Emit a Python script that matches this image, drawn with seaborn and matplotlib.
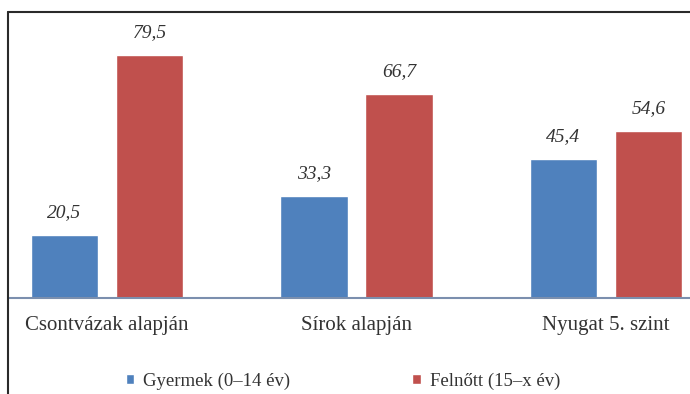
import matplotlib
matplotlib.use("Agg")
import matplotlib.pyplot as plt
from matplotlib.lines import Line2D
import seaborn as sns
import pandas as pd

categories = ["Csontvázak alapján", "Sírok alapján", "Nyugat 5. szint"]
series_names = ["Gyermek (0–14 év)", "Felnőtt (15–x év)"]
child_values = [20.5, 33.3, 45.4]
adult_values = [79.5, 66.7, 54.6]
colors = ["#4F81BD", "#C0504D"]

df = pd.DataFrame({
    "category": categories * 2,
    "group": [series_names[0]] * 3 + [series_names[1]] * 3,
    "value": child_values + adult_values,
})

sns.set_theme(style="white")
plt.rcParams["font.family"] = ["Liberation Serif", "DejaVu Serif"]

W, H = 690, 394
fig = plt.figure(figsize=(W / 100, H / 100), dpi=100)
fig.patch.set_facecolor("white")
ax = fig.add_axes([10 / W, 1 - 298 / H, 680 / W, (298 - 12) / H])

sns.barplot(data=df, x="category", y="value", hue="group", order=categories,
            hue_order=series_names, palette=colors, width=0.683, gap=0.21,
            saturation=1, ax=ax, legend=True)

ax.set_xlim(-0.389, 2.337)
ax.set_ylim(0, 93.5)
ax.set_xlabel("")
ax.set_ylabel("")
ax.set_yticks([])
for s in ["top", "left", "right"]:
    ax.spines[s].set_visible(False)
ax.spines["bottom"].set_color("#7b8fae")
ax.spines["bottom"].set_linewidth(1.5)
ax.tick_params(axis="x", length=0, pad=13, labelsize=15, labelcolor="#333333")
ax.set_facecolor("white")

for cont in ax.containers:
    labels = [f"{v:.1f}".replace(".", ",") for v in cont.datavalues]
    ax.bar_label(cont, labels=labels, padding=10, fontsize=14,
                 fontstyle="italic", color="#333333")

handles, lbls = ax.get_legend_handles_labels()
ax.legend_.remove()
fig.legend(handles, lbls, loc="center", bbox_to_anchor=(343 / W, 1 - 381 / H),
           ncol=2, frameon=False, fontsize=13.5, handlelength=0.45, handleheight=0.45,
           handletextpad=0.5, columnspacing=6.5, labelcolor="#333333")

fig.add_artist(Line2D([8 / W, 8 / W], [0, 1 - 12 / H], transform=fig.transFigure,
                      color="#2a2a2a", lw=1.5))
fig.add_artist(Line2D([8 / W, 1], [1 - 12 / H, 1 - 12 / H], transform=fig.transFigure,
                      color="#2a2a2a", lw=1.5))

fig.savefig("out.png", dpi=100, facecolor="white")
